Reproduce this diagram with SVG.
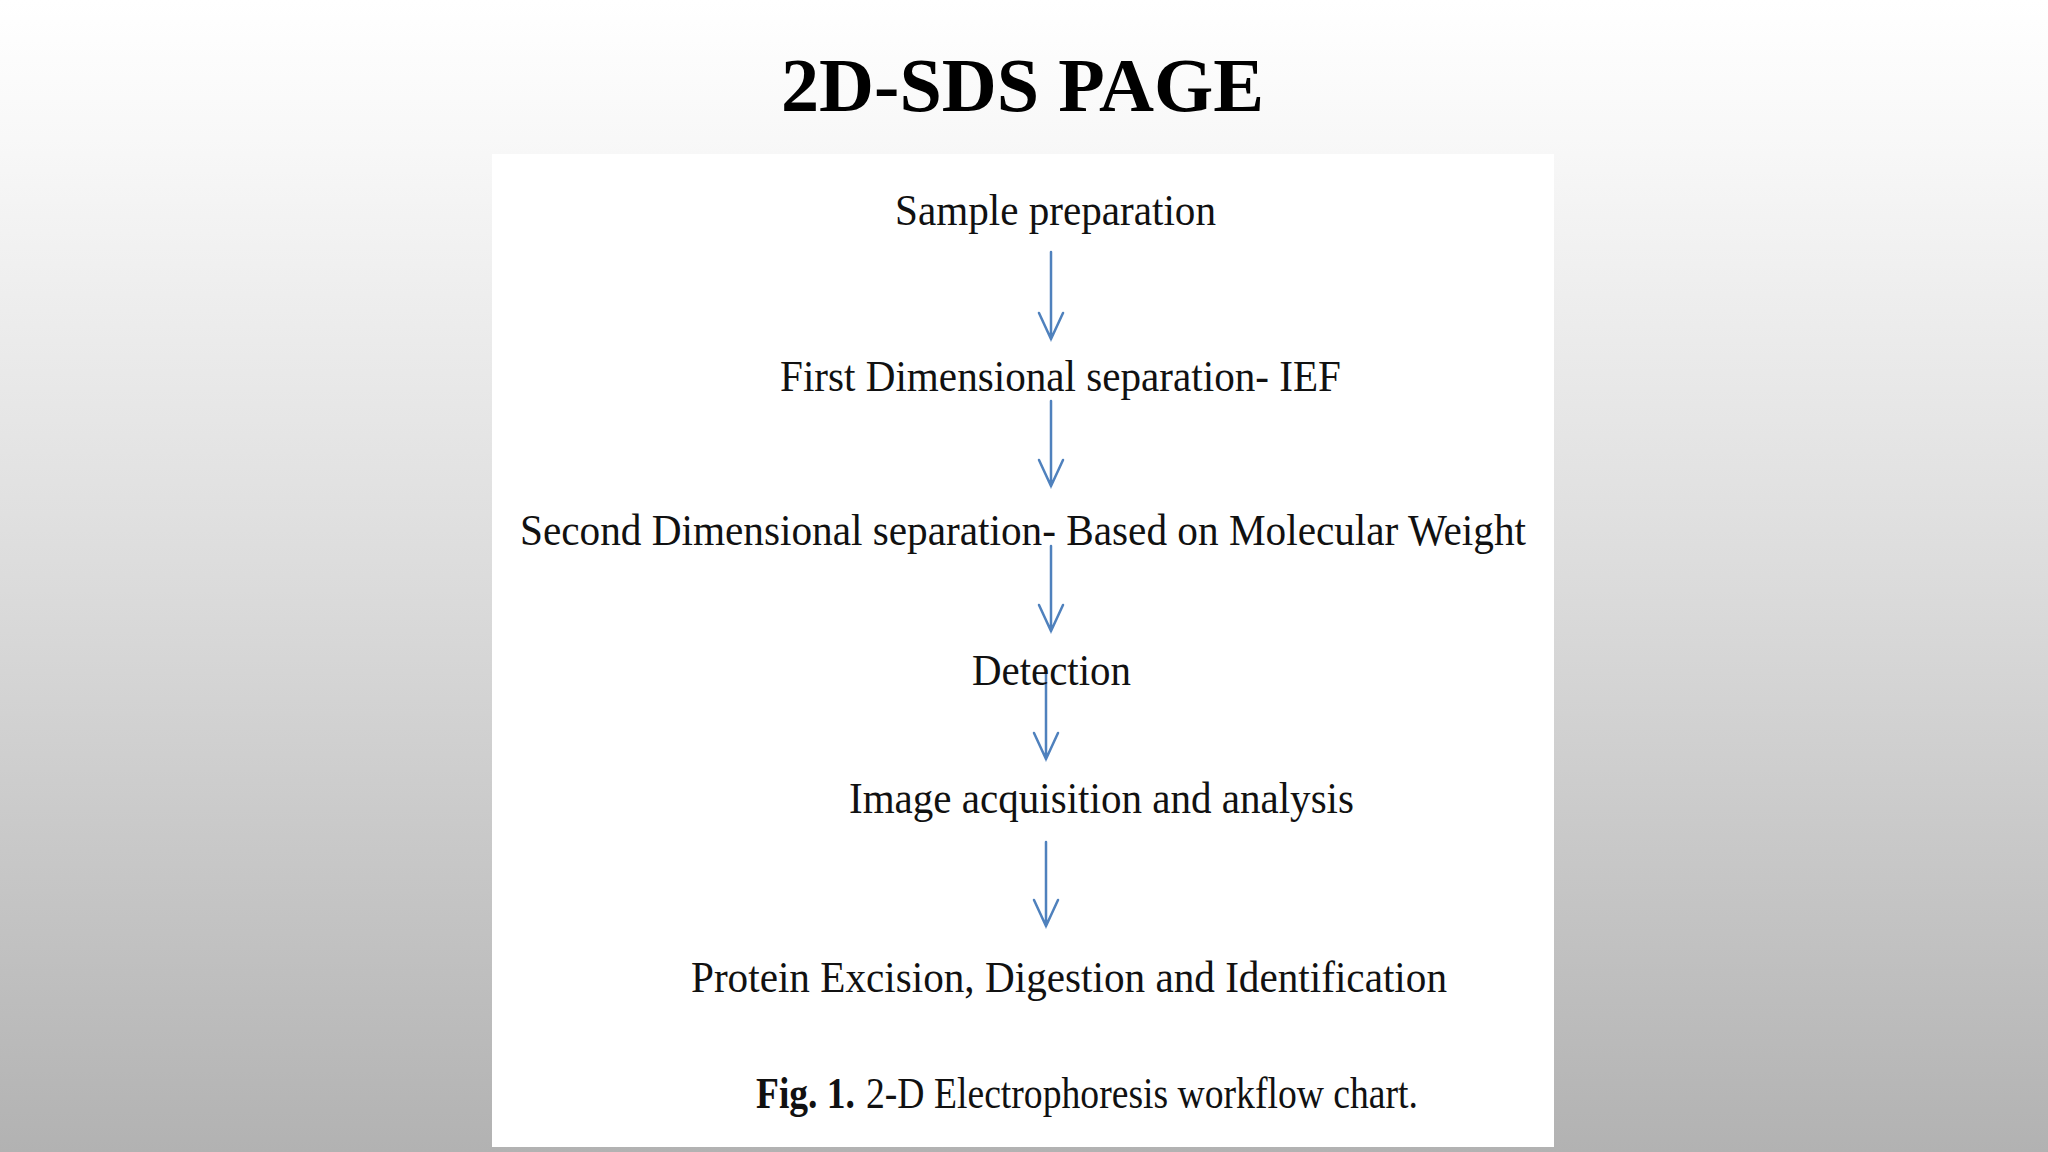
<svg xmlns="http://www.w3.org/2000/svg" width="2048" height="1152" viewBox="0 0 2048 1152">
  <defs>
    <linearGradient id="bg" x1="0" y1="0" x2="0" y2="1">
      <stop offset="0" stop-color="#ffffff"/>
      <stop offset="0.12" stop-color="#f8f8f8"/>
      <stop offset="0.5" stop-color="#dcdcdc"/>
      <stop offset="1" stop-color="#b2b2b2"/>
    </linearGradient>
    <style>
      .lbl { font-family: "Liberation Serif", "Times New Roman", serif; font-size: 44px; fill: #111; }
      .title { font-family: "Liberation Serif", "Times New Roman", serif; font-size: 76px; font-weight: bold; fill: #000; }
      .arrow { fill: none; stroke: #4f81bd; stroke-width: 2.5; stroke-linecap: round; stroke-linejoin: miter; }
    </style>
  </defs>
  <rect x="0" y="0" width="2048" height="1152" fill="url(#bg)"/>
  <text class="title" x="781" y="111" textLength="483" lengthAdjust="spacingAndGlyphs">2D-SDS PAGE</text>
  <rect id="panel" x="492" y="154" width="1062" height="993" fill="#ffffff"/>

  <g id="connectors">
    <path class="arrow" d="M1051 252 V339 M1039 313 L1051 339 L1063 313"/>
    <path class="arrow" d="M1051 401 V486 M1039 460 L1051 486 L1063 460"/>
    <path class="arrow" d="M1051 546 V631 M1039 605 L1051 631 L1063 605"/>
    <path class="arrow" d="M1046 674 V759 M1034 733 L1046 759 L1058 733"/>
    <path class="arrow" d="M1046 842 V926 M1034 900 L1046 926 L1058 900"/>
  </g>

  <g id="n1"><text class="lbl" x="895" y="225" textLength="321" lengthAdjust="spacingAndGlyphs">Sample preparation</text></g>
  <g id="n2"><text class="lbl" x="780" y="391" textLength="561" lengthAdjust="spacingAndGlyphs">First Dimensional separation- IEF</text></g>
  <g id="n3"><text class="lbl" x="520" y="545" textLength="1006" lengthAdjust="spacingAndGlyphs">Second Dimensional separation- Based on Molecular Weight</text></g>
  <g id="n4"><text class="lbl" x="972" y="685" textLength="159" lengthAdjust="spacingAndGlyphs">Detection</text></g>
  <g id="n5"><text class="lbl" x="849" y="813" textLength="505" lengthAdjust="spacingAndGlyphs">Image acquisition and analysis</text></g>
  <g id="n6"><text class="lbl" x="691" y="992" textLength="756" lengthAdjust="spacingAndGlyphs">Protein Excision, Digestion and Identification</text></g>
  <g id="caption">
    <text class="lbl" x="756" y="1108" font-weight="bold" textLength="99" lengthAdjust="spacingAndGlyphs">Fig. 1.</text>
    <text class="lbl" x="866" y="1108" textLength="552" lengthAdjust="spacingAndGlyphs">2-D Electrophoresis workflow chart.</text>
  </g>
</svg>
